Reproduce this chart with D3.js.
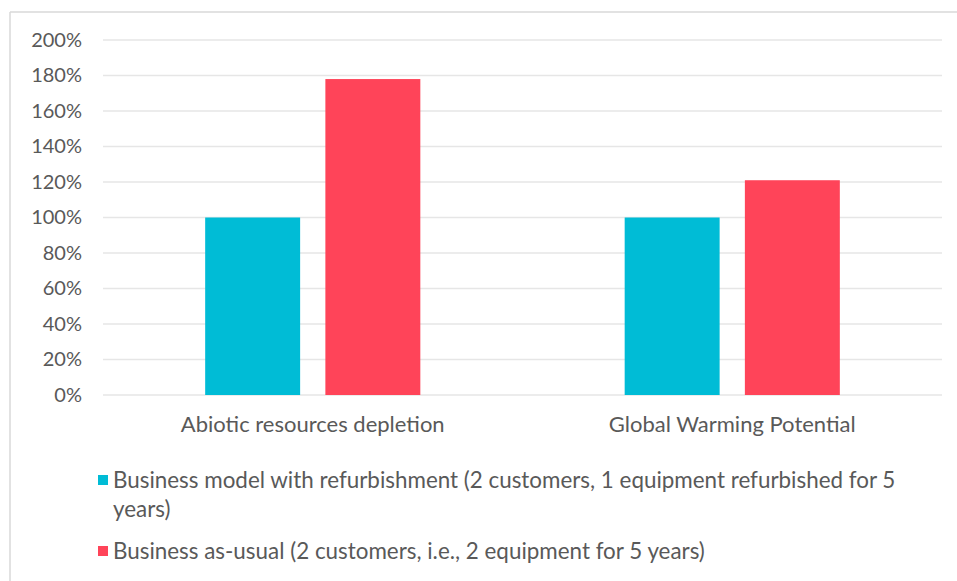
<!DOCTYPE html>
<html>
<head>
<meta charset="utf-8">
<script src="https://d3js.org/d3.v7.min.js"></script>
<style>
  body { margin: 0; background: #fff; }
  svg { display: block; font-family: Lato, "Liberation Sans", sans-serif; }
</style>
</head>
<body>
<svg width="957" height="581"></svg>
<script>
// chart data
const categories = ["Abiotic resources depletion", "Global Warming Potential"];
const seriesNames = [
  "Business model with refurbishment (2 customers, 1 equipment refurbished for 5 years)",
  "Business as-usual (2 customers, i.e., 2 equipment for 5 years)"
];
const refurbished = [1.00, 1.00];
const businessAsUsual = [1.78, 1.21];
const yTicks = [0, 0.2, 0.4, 0.6, 0.8, 1.0, 1.2, 1.4, 1.6, 1.8, 2.0];
const colors = ["#00bcd6", "#ff4459"];

const svg = d3.select("svg");
const textColor = "#595959";

// frame of the chart area
svg.append("line").attr("x1", 10).attr("x2", 957).attr("y1", 12).attr("y2", 12)
  .style("stroke", "#d9d9d9").style("stroke-width", 1.5);
svg.append("line").attr("x1", 10).attr("x2", 10).attr("y1", 12).attr("y2", 581)
  .style("stroke", "#d9d9d9").style("stroke-width", 1.5);

const plotLeft = 103, plotRight = 942, plotTop = 40, plotBottom = 395;

let x0 = d3.scaleBand().domain(categories).range([plotLeft, plotRight]).padding(0);
let x1 = d3.scaleBand().domain([0, 1]).range([0, x0.bandwidth()])
  .paddingInner(0.21).paddingOuter(0.85);
let y = d3.scaleLinear().domain([0, 2]).range([plotBottom, plotTop]);

// gridlines
svg.append("g").selectAll("line").data(yTicks).enter().append("line")
  .attr("x1", plotLeft).attr("x2", plotRight)
  .attr("y1", d => y(d)).attr("y2", d => y(d))
  .style("stroke", "#e6e6e6").style("stroke-width", 1.5);

// y axis labels
let yAxis = d3.axisLeft(y).tickValues(yTicks).tickSize(0).tickPadding(0)
  .tickFormat(d => Math.round(d * 100) + "%");
let ya = svg.append("g").attr("transform", "translate(82,0)").call(yAxis);
ya.select(".domain").remove();
ya.selectAll("text").style("font-size", "20px").style("fill", textColor)
  .style("font-family", "Lato, sans-serif");

// bars
const table = categories.map((c, i) => ({ cat: c, vals: [refurbished[i], businessAsUsual[i]] }));
let groups = svg.append("g").selectAll("g").data(table).enter().append("g")
  .attr("transform", d => "translate(" + x0(d.cat) + ",0)");
groups.selectAll("rect").data(d => d.vals.map((v, k) => ({ k: k, v: v }))).enter()
  .append("rect")
  .attr("x", d => x1(d.k))
  .attr("width", x1.bandwidth())
  .attr("y", d => y(d.v))
  .attr("height", d => y(0) - y(d.v))
  .style("fill", d => colors[d.k]);

// x axis labels
let xAxis = d3.axisBottom(x0).tickSize(0).tickPadding(21);
let xa = svg.append("g").attr("transform", "translate(0," + plotBottom + ")").call(xAxis);
xa.select(".domain").remove();
xa.selectAll("text").style("font-size", "22px").style("fill", textColor)
  .style("font-family", "Lato, sans-serif");

// legend
const legendLines = [
  [seriesNames[0].slice(0, 77), seriesNames[0].slice(78)],
  [seriesNames[1]]
];
const legendY = [488, 559];
legendLines.forEach((lines, i) => {
  svg.append("rect").attr("x", 98).attr("y", legendY[i] - 13)
    .attr("width", 10).attr("height", 10).style("fill", colors[i]);
  lines.forEach((t, j) => {
    svg.append("text").attr("x", 113).attr("y", legendY[i] + j * 29)
      .style("font-size", "22.4px").style("fill", textColor)
      .text(t);
  });
});
</script>
</body>
</html>
